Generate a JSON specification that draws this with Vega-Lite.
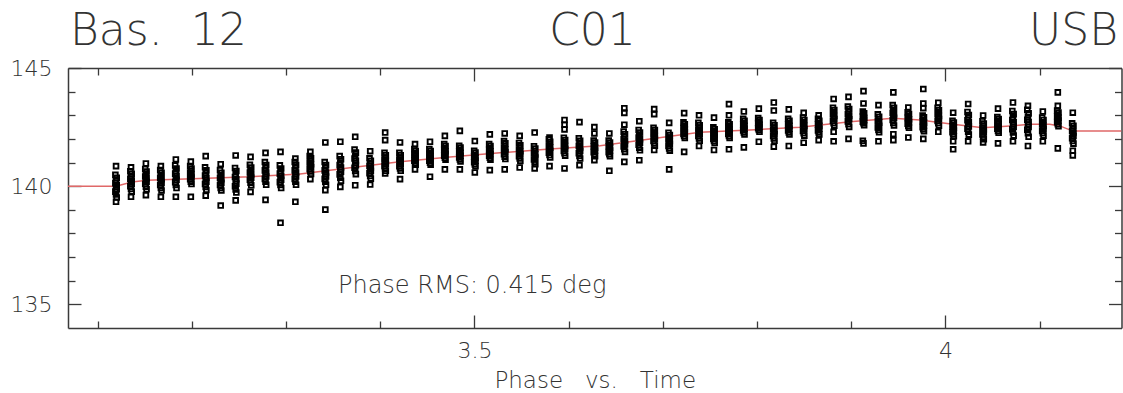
{
"$schema": "https://vega.github.io/schema/vega-lite/v6.json",
"width": 1053.5,
"height": 260,
"autosize": "none",
"padding": {"left": 68, "top": 68, "right": 1.5, "bottom": 65},
"background": "white",
"datasets": {
"fit": [{"t":3.0685,"p":140.0},{"t":3.1195,"p":140.0},{"t":3.1364,"p":140.18},{"t":3.1524,"p":140.25},{"t":3.2086,"p":140.33},{"t":3.2617,"p":140.4},{"t":3.3148,"p":140.52},{"t":3.3679,"p":140.78},{"t":3.4209,"p":141.03},{"t":3.474,"p":141.23},{"t":3.5271,"p":141.41},{"t":3.5802,"p":141.57},{"t":3.6333,"p":141.71},{"t":3.6864,"p":142.0},{"t":3.7394,"p":142.28},{"t":3.7925,"p":142.38},{"t":3.8456,"p":142.49},{"t":3.8987,"p":142.73},{"t":3.9443,"p":142.87},{"t":3.973,"p":142.8},{"t":4.008,"p":142.62},{"t":4.0398,"p":142.47},{"t":4.0685,"p":142.55},{"t":4.0897,"p":142.62},{"t":4.1107,"p":142.62},{"t":4.1213,"p":142.55},{"t":4.1354,"p":142.33},{"t":4.1869,"p":142.33}],
"obs": [
{"t":3.1195,"p":140.85},{"t":3.1188,"p":140.48},{"t":3.1202,"p":140.35},{"t":3.1195,"p":140.23},{"t":3.1188,"p":140.13},{"t":3.1202,"p":140.04},{"t":3.1195,"p":139.96},{"t":3.1202,"p":139.87},{"t":3.1188,"p":139.77},{"t":3.1195,"p":139.65},{"t":3.1202,"p":139.52},{"t":3.1195,"p":139.34},
{"t":3.1354,"p":140.8},{"t":3.1347,"p":140.63},{"t":3.1361,"p":140.52},{"t":3.1354,"p":140.40},{"t":3.1347,"p":140.31},{"t":3.1361,"p":140.24},{"t":3.1354,"p":140.16},{"t":3.1361,"p":140.09},{"t":3.1347,"p":140.00},{"t":3.1354,"p":139.88},{"t":3.1361,"p":139.77},{"t":3.1354,"p":139.55},
{"t":3.1512,"p":140.96},{"t":3.1505,"p":140.73},{"t":3.1519,"p":140.62},{"t":3.1512,"p":140.50},{"t":3.1505,"p":140.41},{"t":3.1519,"p":140.34},{"t":3.1512,"p":140.26},{"t":3.1519,"p":140.19},{"t":3.1505,"p":140.10},{"t":3.1512,"p":139.98},{"t":3.1519,"p":139.87},{"t":3.1512,"p":139.62},
{"t":3.1671,"p":140.85},{"t":3.1664,"p":140.68},{"t":3.1678,"p":140.57},{"t":3.1671,"p":140.45},{"t":3.1664,"p":140.36},{"t":3.1678,"p":140.29},{"t":3.1671,"p":140.21},{"t":3.1678,"p":140.14},{"t":3.1664,"p":140.05},{"t":3.1671,"p":139.93},{"t":3.1678,"p":139.82},{"t":3.1671,"p":139.55},
{"t":3.1830,"p":141.13},{"t":3.1823,"p":140.88},{"t":3.1837,"p":140.75},{"t":3.1830,"p":140.63},{"t":3.1823,"p":140.53},{"t":3.1837,"p":140.44},{"t":3.1830,"p":140.36},{"t":3.1837,"p":140.27},{"t":3.1823,"p":140.17},{"t":3.1830,"p":140.05},{"t":3.1837,"p":139.92},{"t":3.1830,"p":139.55},
{"t":3.1989,"p":141.04},{"t":3.1982,"p":140.85},{"t":3.1996,"p":140.75},{"t":3.1989,"p":140.65},{"t":3.1982,"p":140.57},{"t":3.1996,"p":140.50},{"t":3.1989,"p":140.44},{"t":3.1996,"p":140.37},{"t":3.1982,"p":140.29},{"t":3.1989,"p":140.19},{"t":3.1996,"p":140.09},{"t":3.1989,"p":139.55},
{"t":3.2147,"p":141.27},{"t":3.2140,"p":140.80},{"t":3.2154,"p":140.67},{"t":3.2147,"p":140.55},{"t":3.2140,"p":140.45},{"t":3.2154,"p":140.36},{"t":3.2147,"p":140.28},{"t":3.2154,"p":140.19},{"t":3.2140,"p":140.09},{"t":3.2147,"p":139.97},{"t":3.2154,"p":139.84},{"t":3.2147,"p":139.60},
{"t":3.2306,"p":140.93},{"t":3.2299,"p":140.68},{"t":3.2313,"p":140.57},{"t":3.2306,"p":140.45},{"t":3.2299,"p":140.36},{"t":3.2313,"p":140.29},{"t":3.2306,"p":140.21},{"t":3.2313,"p":140.14},{"t":3.2299,"p":140.05},{"t":3.2306,"p":139.93},{"t":3.2313,"p":139.82},{"t":3.2306,"p":139.18},
{"t":3.2465,"p":141.30},{"t":3.2458,"p":140.77},{"t":3.2472,"p":140.64},{"t":3.2465,"p":140.50},{"t":3.2458,"p":140.39},{"t":3.2472,"p":140.29},{"t":3.2465,"p":140.21},{"t":3.2472,"p":140.11},{"t":3.2458,"p":140.00},{"t":3.2465,"p":139.86},{"t":3.2472,"p":139.73},{"t":3.2465,"p":139.40},
{"t":3.2623,"p":141.24},{"t":3.2616,"p":140.90},{"t":3.2630,"p":140.79},{"t":3.2623,"p":140.67},{"t":3.2616,"p":140.58},{"t":3.2630,"p":140.51},{"t":3.2623,"p":140.43},{"t":3.2630,"p":140.36},{"t":3.2616,"p":140.27},{"t":3.2623,"p":140.15},{"t":3.2630,"p":140.04},{"t":3.2623,"p":139.76},
{"t":3.2782,"p":141.41},{"t":3.2775,"p":141.02},{"t":3.2789,"p":140.89},{"t":3.2782,"p":140.77},{"t":3.2775,"p":140.67},{"t":3.2789,"p":140.58},{"t":3.2782,"p":140.50},{"t":3.2789,"p":140.41},{"t":3.2775,"p":140.31},{"t":3.2782,"p":140.19},{"t":3.2789,"p":140.06},{"t":3.2782,"p":139.42},
{"t":3.2941,"p":141.45},{"t":3.2934,"p":140.88},{"t":3.2948,"p":140.75},{"t":3.2941,"p":140.63},{"t":3.2934,"p":140.53},{"t":3.2948,"p":140.44},{"t":3.2941,"p":140.36},{"t":3.2948,"p":140.27},{"t":3.2934,"p":140.17},{"t":3.2941,"p":140.05},{"t":3.2948,"p":139.92},{"t":3.2941,"p":138.45},
{"t":3.3099,"p":141.17},{"t":3.3092,"p":141.02},{"t":3.3106,"p":140.89},{"t":3.3099,"p":140.77},{"t":3.3092,"p":140.67},{"t":3.3106,"p":140.58},{"t":3.3099,"p":140.50},{"t":3.3106,"p":140.41},{"t":3.3092,"p":140.31},{"t":3.3099,"p":140.19},{"t":3.3106,"p":140.06},{"t":3.3099,"p":139.34},
{"t":3.3258,"p":141.45},{"t":3.3251,"p":141.28},{"t":3.3265,"p":141.18},{"t":3.3258,"p":141.08},{"t":3.3251,"p":141.00},{"t":3.3265,"p":140.93},{"t":3.3258,"p":140.87},{"t":3.3265,"p":140.80},{"t":3.3251,"p":140.72},{"t":3.3258,"p":140.62},{"t":3.3265,"p":140.52},{"t":3.3258,"p":140.30},
{"t":3.3417,"p":141.85},{"t":3.3410,"p":141.02},{"t":3.3424,"p":140.89},{"t":3.3417,"p":140.77},{"t":3.3410,"p":140.67},{"t":3.3424,"p":140.58},{"t":3.3417,"p":140.50},{"t":3.3424,"p":140.41},{"t":3.3410,"p":140.31},{"t":3.3417,"p":140.19},{"t":3.3424,"p":140.06},{"t":3.3417,"p":139.83},{"t":3.3417,"p":139.01},
{"t":3.3576,"p":141.88},{"t":3.3569,"p":141.27},{"t":3.3583,"p":141.14},{"t":3.3576,"p":141.00},{"t":3.3569,"p":140.89},{"t":3.3583,"p":140.79},{"t":3.3576,"p":140.71},{"t":3.3583,"p":140.61},{"t":3.3569,"p":140.50},{"t":3.3576,"p":140.36},{"t":3.3583,"p":140.23},{"t":3.3576,"p":139.97},
{"t":3.3734,"p":142.09},{"t":3.3727,"p":141.55},{"t":3.3741,"p":141.42},{"t":3.3734,"p":141.28},{"t":3.3727,"p":141.17},{"t":3.3741,"p":141.07},{"t":3.3734,"p":140.99},{"t":3.3741,"p":140.89},{"t":3.3727,"p":140.78},{"t":3.3734,"p":140.64},{"t":3.3741,"p":140.51},{"t":3.3734,"p":140.04},
{"t":3.3893,"p":141.48},{"t":3.3886,"p":141.18},{"t":3.3900,"p":141.07},{"t":3.3893,"p":140.95},{"t":3.3886,"p":140.86},{"t":3.3900,"p":140.79},{"t":3.3893,"p":140.71},{"t":3.3900,"p":140.64},{"t":3.3886,"p":140.55},{"t":3.3893,"p":140.43},{"t":3.3900,"p":140.32},{"t":3.3893,"p":140.07},
{"t":3.4052,"p":142.27},{"t":3.4052,"p":141.95},{"t":3.4045,"p":141.41},{"t":3.4059,"p":141.31},{"t":3.4052,"p":141.21},{"t":3.4045,"p":141.13},{"t":3.4059,"p":141.06},{"t":3.4052,"p":141.00},{"t":3.4059,"p":140.93},{"t":3.4045,"p":140.85},{"t":3.4052,"p":140.75},{"t":3.4059,"p":140.65},{"t":3.4052,"p":140.54},
{"t":3.4210,"p":141.85},{"t":3.4203,"p":141.41},{"t":3.4217,"p":141.31},{"t":3.4210,"p":141.21},{"t":3.4203,"p":141.13},{"t":3.4217,"p":141.06},{"t":3.4210,"p":141.00},{"t":3.4217,"p":140.93},{"t":3.4203,"p":140.85},{"t":3.4210,"p":140.75},{"t":3.4217,"p":140.65},{"t":3.4210,"p":140.30},
{"t":3.4369,"p":141.78},{"t":3.4362,"p":141.57},{"t":3.4376,"p":141.49},{"t":3.4369,"p":141.40},{"t":3.4362,"p":141.33},{"t":3.4376,"p":141.27},{"t":3.4369,"p":141.21},{"t":3.4376,"p":141.15},{"t":3.4362,"p":141.08},{"t":3.4369,"p":140.99},{"t":3.4376,"p":140.91},{"t":3.4369,"p":140.71},
{"t":3.4528,"p":141.88},{"t":3.4521,"p":141.57},{"t":3.4535,"p":141.49},{"t":3.4528,"p":141.40},{"t":3.4521,"p":141.33},{"t":3.4535,"p":141.27},{"t":3.4528,"p":141.21},{"t":3.4535,"p":141.15},{"t":3.4521,"p":141.08},{"t":3.4528,"p":140.99},{"t":3.4535,"p":140.91},{"t":3.4528,"p":140.40},
{"t":3.4686,"p":142.13},{"t":3.4679,"p":141.78},{"t":3.4693,"p":141.70},{"t":3.4686,"p":141.61},{"t":3.4679,"p":141.54},{"t":3.4693,"p":141.48},{"t":3.4686,"p":141.42},{"t":3.4693,"p":141.36},{"t":3.4679,"p":141.29},{"t":3.4686,"p":141.20},{"t":3.4693,"p":141.12},{"t":3.4686,"p":140.71},
{"t":3.4845,"p":142.34},{"t":3.4838,"p":141.71},{"t":3.4852,"p":141.63},{"t":3.4845,"p":141.54},{"t":3.4838,"p":141.47},{"t":3.4852,"p":141.41},{"t":3.4845,"p":141.35},{"t":3.4852,"p":141.29},{"t":3.4838,"p":141.22},{"t":3.4845,"p":141.13},{"t":3.4852,"p":141.05},{"t":3.4845,"p":140.71},
{"t":3.5004,"p":141.91},{"t":3.4997,"p":141.50},{"t":3.5011,"p":141.42},{"t":3.5004,"p":141.33},{"t":3.4997,"p":141.26},{"t":3.5011,"p":141.20},{"t":3.5004,"p":141.14},{"t":3.5011,"p":141.08},{"t":3.4997,"p":141.01},{"t":3.5004,"p":140.92},{"t":3.5011,"p":140.84},{"t":3.5004,"p":140.58},
{"t":3.5163,"p":142.19},{"t":3.5156,"p":141.78},{"t":3.5170,"p":141.70},{"t":3.5163,"p":141.61},{"t":3.5156,"p":141.54},{"t":3.5170,"p":141.48},{"t":3.5163,"p":141.42},{"t":3.5170,"p":141.36},{"t":3.5156,"p":141.29},{"t":3.5163,"p":141.20},{"t":3.5170,"p":141.12},{"t":3.5163,"p":140.68},
{"t":3.5321,"p":142.23},{"t":3.5314,"p":141.91},{"t":3.5328,"p":141.81},{"t":3.5321,"p":141.71},{"t":3.5314,"p":141.63},{"t":3.5328,"p":141.56},{"t":3.5321,"p":141.50},{"t":3.5328,"p":141.43},{"t":3.5314,"p":141.35},{"t":3.5321,"p":141.25},{"t":3.5328,"p":141.15},{"t":3.5321,"p":140.71},
{"t":3.5480,"p":142.13},{"t":3.5473,"p":141.83},{"t":3.5487,"p":141.73},{"t":3.5480,"p":141.63},{"t":3.5473,"p":141.55},{"t":3.5487,"p":141.48},{"t":3.5480,"p":141.42},{"t":3.5487,"p":141.35},{"t":3.5473,"p":141.27},{"t":3.5480,"p":141.17},{"t":3.5487,"p":141.07},{"t":3.5480,"p":140.79},
{"t":3.5639,"p":142.27},{"t":3.5632,"p":141.69},{"t":3.5646,"p":141.59},{"t":3.5639,"p":141.49},{"t":3.5632,"p":141.41},{"t":3.5646,"p":141.34},{"t":3.5639,"p":141.28},{"t":3.5646,"p":141.21},{"t":3.5632,"p":141.13},{"t":3.5639,"p":141.03},{"t":3.5646,"p":140.93},{"t":3.5639,"p":140.75},
{"t":3.5797,"p":142.06},{"t":3.5790,"p":141.98},{"t":3.5804,"p":141.88},{"t":3.5797,"p":141.78},{"t":3.5790,"p":141.70},{"t":3.5804,"p":141.63},{"t":3.5797,"p":141.57},{"t":3.5804,"p":141.50},{"t":3.5790,"p":141.42},{"t":3.5797,"p":141.32},{"t":3.5804,"p":141.22},{"t":3.5797,"p":140.85},
{"t":3.5956,"p":142.80},{"t":3.5956,"p":142.60},{"t":3.5956,"p":142.40},{"t":3.5949,"p":142.05},{"t":3.5963,"p":141.95},{"t":3.5956,"p":141.85},{"t":3.5949,"p":141.77},{"t":3.5963,"p":141.70},{"t":3.5956,"p":141.64},{"t":3.5963,"p":141.57},{"t":3.5949,"p":141.49},{"t":3.5956,"p":141.39},{"t":3.5963,"p":141.29},{"t":3.5956,"p":140.75},
{"t":3.6115,"p":142.71},{"t":3.6108,"p":142.03},{"t":3.6122,"p":141.92},{"t":3.6115,"p":141.80},{"t":3.6108,"p":141.71},{"t":3.6122,"p":141.64},{"t":3.6115,"p":141.56},{"t":3.6122,"p":141.49},{"t":3.6108,"p":141.40},{"t":3.6115,"p":141.28},{"t":3.6122,"p":141.17},{"t":3.6115,"p":140.89},
{"t":3.6273,"p":142.50},{"t":3.6273,"p":142.23},{"t":3.6266,"p":141.93},{"t":3.6280,"p":141.85},{"t":3.6273,"p":141.76},{"t":3.6266,"p":141.69},{"t":3.6280,"p":141.63},{"t":3.6273,"p":141.57},{"t":3.6280,"p":141.51},{"t":3.6266,"p":141.44},{"t":3.6273,"p":141.35},{"t":3.6280,"p":141.27},{"t":3.6273,"p":141.10},
{"t":3.6432,"p":142.23},{"t":3.6425,"p":141.93},{"t":3.6439,"p":141.85},{"t":3.6432,"p":141.76},{"t":3.6425,"p":141.69},{"t":3.6439,"p":141.63},{"t":3.6432,"p":141.57},{"t":3.6439,"p":141.51},{"t":3.6425,"p":141.44},{"t":3.6432,"p":141.35},{"t":3.6439,"p":141.27},{"t":3.6432,"p":140.65},
{"t":3.6591,"p":143.30},{"t":3.6591,"p":143.10},{"t":3.6591,"p":142.60},{"t":3.6584,"p":142.31},{"t":3.6598,"p":142.20},{"t":3.6591,"p":142.08},{"t":3.6584,"p":141.99},{"t":3.6598,"p":141.92},{"t":3.6591,"p":141.84},{"t":3.6598,"p":141.77},{"t":3.6584,"p":141.68},{"t":3.6591,"p":141.56},{"t":3.6598,"p":141.45},{"t":3.6591,"p":141.03},
{"t":3.6750,"p":142.75},{"t":3.6743,"p":142.38},{"t":3.6757,"p":142.27},{"t":3.6750,"p":142.15},{"t":3.6743,"p":142.06},{"t":3.6757,"p":141.99},{"t":3.6750,"p":141.91},{"t":3.6757,"p":141.84},{"t":3.6743,"p":141.75},{"t":3.6750,"p":141.63},{"t":3.6757,"p":141.52},{"t":3.6750,"p":141.10},
{"t":3.6908,"p":143.26},{"t":3.6908,"p":143.05},{"t":3.6901,"p":142.47},{"t":3.6915,"p":142.37},{"t":3.6908,"p":142.27},{"t":3.6901,"p":142.19},{"t":3.6915,"p":142.12},{"t":3.6908,"p":142.06},{"t":3.6915,"p":141.99},{"t":3.6901,"p":141.91},{"t":3.6908,"p":141.81},{"t":3.6915,"p":141.71},{"t":3.6908,"p":141.53},
{"t":3.7067,"p":142.68},{"t":3.7060,"p":142.26},{"t":3.7074,"p":142.16},{"t":3.7067,"p":142.06},{"t":3.7060,"p":141.98},{"t":3.7074,"p":141.91},{"t":3.7067,"p":141.85},{"t":3.7074,"p":141.78},{"t":3.7060,"p":141.70},{"t":3.7067,"p":141.60},{"t":3.7074,"p":141.50},{"t":3.7067,"p":140.71},
{"t":3.7226,"p":143.09},{"t":3.7219,"p":142.70},{"t":3.7233,"p":142.62},{"t":3.7226,"p":142.53},{"t":3.7219,"p":142.46},{"t":3.7233,"p":142.40},{"t":3.7226,"p":142.34},{"t":3.7233,"p":142.28},{"t":3.7219,"p":142.21},{"t":3.7226,"p":142.12},{"t":3.7233,"p":142.04},{"t":3.7226,"p":141.45},
{"t":3.7384,"p":143.00},{"t":3.7377,"p":142.68},{"t":3.7391,"p":142.58},{"t":3.7384,"p":142.48},{"t":3.7377,"p":142.40},{"t":3.7391,"p":142.33},{"t":3.7384,"p":142.27},{"t":3.7391,"p":142.20},{"t":3.7377,"p":142.12},{"t":3.7384,"p":142.02},{"t":3.7391,"p":141.92},{"t":3.7384,"p":141.70},
{"t":3.7543,"p":142.90},{"t":3.7536,"p":142.49},{"t":3.7550,"p":142.41},{"t":3.7543,"p":142.32},{"t":3.7536,"p":142.25},{"t":3.7550,"p":142.19},{"t":3.7543,"p":142.13},{"t":3.7550,"p":142.07},{"t":3.7536,"p":142.00},{"t":3.7543,"p":141.91},{"t":3.7550,"p":141.83},{"t":3.7543,"p":141.53},
{"t":3.7702,"p":143.47},{"t":3.7702,"p":143.00},{"t":3.7695,"p":142.70},{"t":3.7709,"p":142.62},{"t":3.7702,"p":142.53},{"t":3.7695,"p":142.46},{"t":3.7709,"p":142.40},{"t":3.7702,"p":142.34},{"t":3.7709,"p":142.28},{"t":3.7695,"p":142.21},{"t":3.7702,"p":142.12},{"t":3.7709,"p":142.04},{"t":3.7702,"p":141.56},
{"t":3.7860,"p":143.16},{"t":3.7853,"p":142.85},{"t":3.7867,"p":142.77},{"t":3.7860,"p":142.68},{"t":3.7853,"p":142.61},{"t":3.7867,"p":142.55},{"t":3.7860,"p":142.49},{"t":3.7867,"p":142.43},{"t":3.7853,"p":142.36},{"t":3.7860,"p":142.27},{"t":3.7867,"p":142.19},{"t":3.7860,"p":141.64},
{"t":3.8019,"p":143.28},{"t":3.8012,"p":142.88},{"t":3.8026,"p":142.80},{"t":3.8019,"p":142.73},{"t":3.8012,"p":142.67},{"t":3.8026,"p":142.61},{"t":3.8019,"p":142.57},{"t":3.8026,"p":142.51},{"t":3.8012,"p":142.45},{"t":3.8019,"p":142.38},{"t":3.8026,"p":142.30},{"t":3.8019,"p":141.88},
{"t":3.8178,"p":143.54},{"t":3.8178,"p":143.20},{"t":3.8171,"p":142.68},{"t":3.8185,"p":142.58},{"t":3.8178,"p":142.48},{"t":3.8171,"p":142.40},{"t":3.8185,"p":142.33},{"t":3.8178,"p":142.27},{"t":3.8185,"p":142.20},{"t":3.8171,"p":142.12},{"t":3.8178,"p":142.02},{"t":3.8185,"p":141.92},{"t":3.8178,"p":141.67},
{"t":3.8337,"p":143.25},{"t":3.8330,"p":142.85},{"t":3.8344,"p":142.77},{"t":3.8337,"p":142.68},{"t":3.8330,"p":142.61},{"t":3.8344,"p":142.55},{"t":3.8337,"p":142.49},{"t":3.8344,"p":142.43},{"t":3.8330,"p":142.36},{"t":3.8337,"p":142.27},{"t":3.8344,"p":142.19},{"t":3.8337,"p":141.70},
{"t":3.8495,"p":143.10},{"t":3.8488,"p":142.90},{"t":3.8502,"p":142.80},{"t":3.8495,"p":142.70},{"t":3.8488,"p":142.62},{"t":3.8502,"p":142.55},{"t":3.8495,"p":142.49},{"t":3.8502,"p":142.42},{"t":3.8488,"p":142.34},{"t":3.8495,"p":142.24},{"t":3.8502,"p":142.14},{"t":3.8495,"p":141.84},
{"t":3.8654,"p":143.00},{"t":3.8647,"p":142.85},{"t":3.8661,"p":142.77},{"t":3.8654,"p":142.68},{"t":3.8647,"p":142.61},{"t":3.8661,"p":142.55},{"t":3.8654,"p":142.49},{"t":3.8661,"p":142.43},{"t":3.8647,"p":142.36},{"t":3.8654,"p":142.27},{"t":3.8661,"p":142.19},{"t":3.8654,"p":141.95},
{"t":3.8813,"p":143.69},{"t":3.8806,"p":143.32},{"t":3.8820,"p":143.22},{"t":3.8813,"p":143.12},{"t":3.8806,"p":143.04},{"t":3.8820,"p":142.97},{"t":3.8813,"p":142.91},{"t":3.8820,"p":142.84},{"t":3.8806,"p":142.76},{"t":3.8813,"p":142.66},{"t":3.8820,"p":142.56},{"t":3.8813,"p":142.30},{"t":3.8813,"p":141.90},
{"t":3.8971,"p":143.78},{"t":3.8964,"p":143.37},{"t":3.8978,"p":143.26},{"t":3.8971,"p":143.14},{"t":3.8964,"p":143.05},{"t":3.8978,"p":142.98},{"t":3.8971,"p":142.90},{"t":3.8978,"p":142.83},{"t":3.8964,"p":142.74},{"t":3.8971,"p":142.62},{"t":3.8978,"p":142.51},{"t":3.8971,"p":142.00},
{"t":3.9130,"p":144.02},{"t":3.9130,"p":143.50},{"t":3.9123,"p":143.16},{"t":3.9137,"p":143.08},{"t":3.9130,"p":143.01},{"t":3.9123,"p":142.95},{"t":3.9137,"p":142.89},{"t":3.9130,"p":142.85},{"t":3.9137,"p":142.79},{"t":3.9123,"p":142.73},{"t":3.9130,"p":142.66},{"t":3.9137,"p":142.58},{"t":3.9123,"p":141.92},{"t":3.9130,"p":141.81},
{"t":3.9289,"p":143.43},{"t":3.9282,"p":143.04},{"t":3.9296,"p":142.94},{"t":3.9289,"p":142.84},{"t":3.9282,"p":142.76},{"t":3.9296,"p":142.69},{"t":3.9289,"p":142.63},{"t":3.9296,"p":142.56},{"t":3.9282,"p":142.48},{"t":3.9289,"p":142.38},{"t":3.9296,"p":142.28},{"t":3.9289,"p":141.90},
{"t":3.9447,"p":143.97},{"t":3.9440,"p":143.43},{"t":3.9454,"p":143.32},{"t":3.9447,"p":143.20},{"t":3.9440,"p":143.11},{"t":3.9454,"p":143.04},{"t":3.9447,"p":142.96},{"t":3.9454,"p":142.89},{"t":3.9440,"p":142.80},{"t":3.9447,"p":142.68},{"t":3.9454,"p":142.57},{"t":3.9447,"p":142.20},{"t":3.9447,"p":141.95},
{"t":3.9606,"p":143.33},{"t":3.9599,"p":143.13},{"t":3.9613,"p":143.05},{"t":3.9606,"p":142.96},{"t":3.9599,"p":142.89},{"t":3.9613,"p":142.83},{"t":3.9606,"p":142.77},{"t":3.9613,"p":142.71},{"t":3.9599,"p":142.64},{"t":3.9606,"p":142.55},{"t":3.9613,"p":142.47},{"t":3.9606,"p":142.06},
{"t":3.9765,"p":144.11},{"t":3.9765,"p":143.50},{"t":3.9765,"p":143.30},{"t":3.9758,"p":142.99},{"t":3.9772,"p":142.91},{"t":3.9765,"p":142.82},{"t":3.9758,"p":142.75},{"t":3.9772,"p":142.69},{"t":3.9765,"p":142.63},{"t":3.9772,"p":142.57},{"t":3.9758,"p":142.50},{"t":3.9765,"p":142.41},{"t":3.9772,"p":142.33},{"t":3.9765,"p":142.00},
{"t":3.9924,"p":143.53},{"t":3.9917,"p":143.32},{"t":3.9931,"p":143.22},{"t":3.9924,"p":143.12},{"t":3.9917,"p":143.04},{"t":3.9931,"p":142.97},{"t":3.9924,"p":142.91},{"t":3.9931,"p":142.84},{"t":3.9917,"p":142.76},{"t":3.9924,"p":142.66},{"t":3.9931,"p":142.56},{"t":3.9924,"p":142.30},
{"t":4.0082,"p":143.11},{"t":4.0075,"p":142.77},{"t":4.0089,"p":142.69},{"t":4.0082,"p":142.60},{"t":4.0075,"p":142.53},{"t":4.0089,"p":142.47},{"t":4.0082,"p":142.41},{"t":4.0089,"p":142.35},{"t":4.0075,"p":142.28},{"t":4.0082,"p":142.19},{"t":4.0089,"p":142.11},{"t":4.0082,"p":141.90},{"t":4.0082,"p":141.56},
{"t":4.0241,"p":143.48},{"t":4.0234,"p":143.14},{"t":4.0248,"p":143.01},{"t":4.0241,"p":142.89},{"t":4.0234,"p":142.79},{"t":4.0248,"p":142.70},{"t":4.0241,"p":142.62},{"t":4.0248,"p":142.53},{"t":4.0234,"p":142.43},{"t":4.0241,"p":142.31},{"t":4.0248,"p":142.18},{"t":4.0241,"p":141.90},
{"t":4.0400,"p":142.99},{"t":4.0393,"p":142.75},{"t":4.0407,"p":142.65},{"t":4.0400,"p":142.55},{"t":4.0393,"p":142.47},{"t":4.0407,"p":142.40},{"t":4.0400,"p":142.34},{"t":4.0407,"p":142.27},{"t":4.0393,"p":142.19},{"t":4.0400,"p":142.09},{"t":4.0407,"p":141.99},{"t":4.0400,"p":141.85},
{"t":4.0558,"p":143.28},{"t":4.0551,"p":142.92},{"t":4.0565,"p":142.84},{"t":4.0558,"p":142.75},{"t":4.0551,"p":142.68},{"t":4.0565,"p":142.62},{"t":4.0558,"p":142.56},{"t":4.0565,"p":142.50},{"t":4.0551,"p":142.43},{"t":4.0558,"p":142.34},{"t":4.0565,"p":142.26},{"t":4.0558,"p":141.81},
{"t":4.0717,"p":143.54},{"t":4.0710,"p":143.18},{"t":4.0724,"p":143.05},{"t":4.0717,"p":142.91},{"t":4.0710,"p":142.80},{"t":4.0724,"p":142.70},{"t":4.0717,"p":142.62},{"t":4.0724,"p":142.52},{"t":4.0710,"p":142.41},{"t":4.0717,"p":142.27},{"t":4.0724,"p":142.14},{"t":4.0717,"p":141.90},
{"t":4.0876,"p":143.40},{"t":4.0869,"p":143.23},{"t":4.0883,"p":143.08},{"t":4.0876,"p":142.93},{"t":4.0869,"p":142.81},{"t":4.0883,"p":142.71},{"t":4.0876,"p":142.61},{"t":4.0883,"p":142.51},{"t":4.0869,"p":142.39},{"t":4.0876,"p":142.24},{"t":4.0883,"p":142.09},{"t":4.0876,"p":141.70},
{"t":4.1034,"p":143.16},{"t":4.1027,"p":142.90},{"t":4.1041,"p":142.80},{"t":4.1034,"p":142.70},{"t":4.1027,"p":142.62},{"t":4.1041,"p":142.55},{"t":4.1034,"p":142.49},{"t":4.1041,"p":142.42},{"t":4.1027,"p":142.34},{"t":4.1034,"p":142.24},{"t":4.1041,"p":142.14},{"t":4.1034,"p":141.90},
{"t":4.1193,"p":143.97},{"t":4.1193,"p":143.40},{"t":4.1186,"p":143.20},{"t":4.1200,"p":143.12},{"t":4.1193,"p":143.03},{"t":4.1186,"p":142.96},{"t":4.1200,"p":142.90},{"t":4.1193,"p":142.84},{"t":4.1200,"p":142.78},{"t":4.1186,"p":142.71},{"t":4.1193,"p":142.62},{"t":4.1200,"p":142.54},{"t":4.1193,"p":141.60},
{"t":4.1352,"p":143.11},{"t":4.1345,"p":142.66},{"t":4.1359,"p":142.55},{"t":4.1352,"p":142.43},{"t":4.1345,"p":142.34},{"t":4.1359,"p":142.27},{"t":4.1352,"p":142.19},{"t":4.1359,"p":142.12},{"t":4.1345,"p":142.03},{"t":4.1352,"p":141.91},{"t":4.1359,"p":141.80},{"t":4.1352,"p":141.50},{"t":4.1352,"p":141.30}
]
},
"layer": [
{
"data": {"name": "fit"},
"mark": {"type": "line", "color": "#e06868", "strokeWidth": 1.5, "clip": true},
"encoding": {
"x": {"field": "t", "type": "quantitative", "scale": {"domain": [3.0685, 4.1869], "nice": false, "zero": false},
"axis": {"orient": "bottom", "values": [3.1,3.2,3.3,3.4,3.5,3.6,3.7,3.8,3.9,4,4.1],
"tickSize": {"condition": {"test": "datum.value == 3.5 || datum.value == 4", "value": -13}, "value": -7},
"labelExpr": "datum.value == 3.5 ? '3.5' : (datum.value == 4 ? '4' : '')",
"labelPadding": 25, "labelFlush": false, "labelOverlap": false, "labelBound": false,
"title": "Phase\u00a0\u00a0\u00a0vs.\u00a0\u00a0\u00a0Time", "titlePadding": 2}},
"y": {"field": "p", "type": "quantitative", "scale": {"domain": [134, 145], "nice": false, "zero": false},
"axis": {"orient": "left", "values": [135,136,137,138,139,140,141,142,143,144,145],
"tickSize": {"condition": {"test": "datum.value % 5 == 0", "value": -13}, "value": -7},
"labelExpr": "datum.value % 5 == 0 ? datum.label : ''",
"labelPadding": 29, "labelOverlap": false, "labelFlush": false, "labelBound": false, "title": null}}
}
},
{
"data": {"name": "obs"},
"mark": {"type": "point", "shape": "square", "filled": false, "color": "#000000", "size": 22, "strokeWidth": 1.9, "opacity": 1},
"encoding": {
"x": {"field": "t", "type": "quantitative",
"axis": {"orient": "top", "values": [3.1,3.2,3.3,3.4,3.5,3.6,3.7,3.8,3.9,4,4.1],
"tickSize": {"condition": {"test": "datum.value == 3.5 || datum.value == 4", "value": -13}, "value": -7},
"labels": false, "title": null}},
"y": {"field": "p", "type": "quantitative",
"axis": {"orient": "right", "values": [135,136,137,138,139,140,141,142,143,144,145],
"tickSize": {"condition": {"test": "datum.value % 5 == 0", "value": -13}, "value": -7},
"labels": false, "title": null}}
}
},
{
"data": {"values": [{}]},
"mark": {"type": "text", "text": "Phase RMS: 0.415 deg", "align": "left", "baseline": "alphabetic", "fontSize": 24},
"encoding": {"x": {"datum": 3.3551, "type": "quantitative", "axis": null}, "y": {"datum": 135.48, "type": "quantitative", "axis": null}}
},
{
"data": {"values": [{}]},
"mark": {"type": "text", "text": "Bas.\u00a0\u00a012", "align": "left", "baseline": "alphabetic", "fontSize": 44},
"encoding": {"x": {"datum": 3.0706, "type": "quantitative", "axis": null}, "y": {"datum": 145.975, "type": "quantitative", "axis": null}}
},
{
"data": {"values": [{}]},
"mark": {"type": "text", "text": "C01", "align": "center", "baseline": "alphabetic", "fontSize": 44},
"encoding": {"x": {"datum": 3.6253, "type": "quantitative", "axis": null}, "y": {"datum": 145.975, "type": "quantitative", "axis": null}}
},
{
"data": {"values": [{}]},
"mark": {"type": "text", "text": "USB", "align": "right", "baseline": "alphabetic", "fontSize": 44},
"encoding": {"x": {"datum": 4.1832, "type": "quantitative", "axis": null}, "y": {"datum": 145.975, "type": "quantitative", "axis": null}}
}
],
"resolve": {"axis": {"x": "independent", "y": "independent"}},
"config": {
"view": {"stroke": null},
"axis": {"grid": false, "domainColor": "#3a3a3a", "domainWidth": 1.5, "tickColor": "#3a3a3a", "tickWidth": 1.3,
"labelFont": "DejaVu Sans", "labelFontSize": 22, "labelFontWeight": 200, "labelColor": "#333333",
"titleFont": "DejaVu Sans", "titleFontSize": 23, "titleFontWeight": 200, "titleColor": "#333333"},
"text": {"font": "DejaVu Sans", "color": "#333333", "fontWeight": 200}
}
}
